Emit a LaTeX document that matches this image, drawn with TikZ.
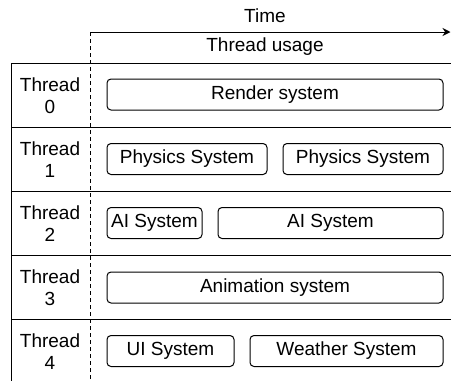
\documentclass[tikz,border=0pt]{standalone}
\usepackage{fontspec}
\setmainfont{Liberation Sans}
\usetikzlibrary{arrows.meta}
\begin{document}
\begin{tikzpicture}[x=1pt,y=-1pt,
  font=\fontsize{19}{22}\selectfont,
  sysbox/.style={draw,rounded corners=4pt,line width=1pt,minimum height=31pt,inner sep=0pt},
  thlabel/.style={align=center,inner sep=0pt},
  grid/.style={line width=1pt},
]
\useasboundingbox (0,0) rectangle (451,381);
% time axis
\coordinate (t0) at (90,32);
\coordinate (t1) at (450.5,32);
\coordinate (tb) at (90,381);
\draw[line width=1pt,-{Stealth[length=8pt,width=8pt]}] (t0) -- (t1);
\draw[line width=1pt,dash pattern=on 4pt off 3pt] (t0) -- (tb);
\node (time) at (265,16) {Time};
\node (usage) at (265,47) {Thread usage};
% table
\draw[grid] (11,381) -- (11,63) -- (451,63);
\foreach \yy in {127,191,255,319} \draw[grid] (11,\yy) -- (451,\yy);
% thread labels
\node[thlabel] (th0) at (50,96) {Thread\\0};
\node[thlabel] (th1) at (50,160) {Thread\\1};
\node[thlabel] (th2) at (50,224) {Thread\\2};
\node[thlabel] (th3) at (50,288) {Thread\\3};
\node[thlabel] (th4) at (50,352) {Thread\\4};
% systems
\node[sysbox,minimum width=336pt] (render) at (275,94.5) {Render system};
\node[sysbox,minimum width=160pt] (phys1) at (187,159) {Physics System};
\node[sysbox,minimum width=160pt] (phys2) at (363,159) {Physics System};
\node[sysbox,minimum width=95pt] (ai1) at (154.5,223) {AI System};
\node[sysbox,minimum width=225pt] (ai2) at (330.5,223) {AI System};
\node[sysbox,minimum width=336pt] (anim) at (275,287.5) {Animation system};
\node[sysbox,minimum width=127pt] (ui) at (170.5,351) {UI System};
\node[sysbox,minimum width=193pt] (weather) at (346.5,351) {Weather System};
\end{tikzpicture}
\end{document}
